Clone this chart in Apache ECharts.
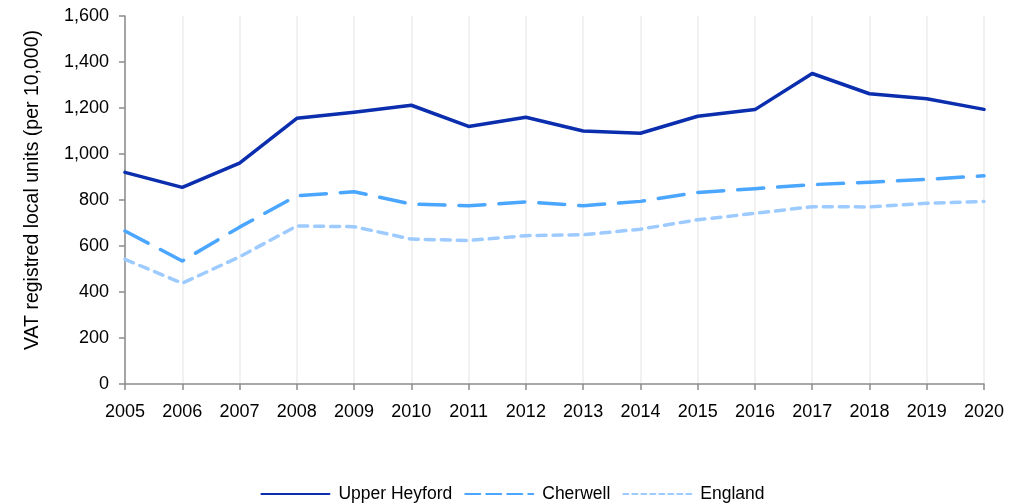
<!DOCTYPE html>
<html>
<head>
<meta charset="utf-8">
<style>
  html, body { margin: 0; padding: 0; background: #ffffff; }
  #chart { width: 1025px; height: 504px; }
</style>
<script src="https://cdn.jsdelivr.net/npm/echarts@6/dist/echarts.min.js"></script>
</head>
<body>
<div id="chart"></div>
<script>
// Years on the category axis
const years = ['2005','2006','2007','2008','2009','2010','2011','2012','2013','2014','2015','2016','2017','2018','2019','2020'];

// VAT registered local units per 10,000 people
const upperHeyford = [920, 855, 960, 1155, 1182, 1212, 1120, 1160, 1100, 1090, 1164, 1193, 1350, 1262, 1240, 1194];
const cherwell     = [665, 535, 682, 818, 836, 782, 775, 792, 775, 794, 833, 849, 867, 877, 890, 905];
const england      = [542, 438, 553, 687, 684, 630, 624, 645, 649, 673, 714, 742, 771, 770, 786, 794];

const seriesNames = ['Upper Heyford', 'Cherwell', 'England'];
const yTicks = { min: 0, max: 1600, step: 200 };

const font = 'Liberation Sans, Arial, sans-serif';
const colors = ['#0A2EAD', '#4BA6FF', '#9DCBFF'];

const chart = echarts.init(document.getElementById('chart'), null, { renderer: 'canvas' });

// Legend keys are plain line samples: hide the point marker
const keyItem = { opacity: 0, color: 'transparent', borderWidth: 0 };

chart.setOption({
  animation: false,
  grid: { left: 125, right: 41, top: 16, bottom: 120, containLabel: false },
  legend: {
    left: 'center',
    top: 480,
    itemWidth: 68,
    itemHeight: 14,
    itemGap: 12,
    textStyle: { fontFamily: font, fontSize: 17.5, color: '#000', padding: [0, 0, 0, 4] },
    data: [
      { name: seriesNames[0], itemStyle: keyItem, lineStyle: { width: 2, type: 'solid' } },
      { name: seriesNames[1], itemStyle: keyItem, lineStyle: { width: 2, type: [15, 6] } },
      { name: seriesNames[2], itemStyle: keyItem, lineStyle: { width: 2, type: [5, 4] } }
    ]
  },
  xAxis: {
    type: 'category',
    data: years,
    boundaryGap: false,
    axisLine: { lineStyle: { color: '#8c8c8c', width: 1.5 } },
    axisTick: { show: true, length: 6, alignWithLabel: true, lineStyle: { color: '#8c8c8c', width: 1.5 } },
    axisLabel: { fontFamily: font, fontSize: 18, color: '#000', margin: 19, interval: 0 },
    splitLine: { show: true, interval: 0, lineStyle: { color: '#ececec', width: 1.5 } }
  },
  yAxis: {
    type: 'value',
    min: yTicks.min,
    max: yTicks.max,
    interval: yTicks.step,
    name: 'VAT registred local units (per 10,000)',
    nameLocation: 'middle',
    nameGap: 82,
    nameRotate: 90,
    nameTextStyle: { fontFamily: font, fontSize: 19.5, color: '#000', padding: [0, 0, 0, 20] },
    axisLine: { show: true, lineStyle: { color: '#8c8c8c', width: 1.5 } },
    axisTick: { show: true, length: 6, lineStyle: { color: '#8c8c8c', width: 1.5 } },
    axisLabel: {
      fontFamily: font, fontSize: 18, color: '#000', margin: 16,
      formatter: v => v.toLocaleString('en-GB')
    },
    splitLine: { show: false }
  },
  series: [
    {
      name: seriesNames[0], type: 'line', data: upperHeyford,
      symbol: 'none', color: colors[0],
      lineStyle: { color: colors[0], width: 3.5, type: 'solid', cap: 'round', join: 'round' },
      z: 5
    },
    {
      name: seriesNames[1], type: 'line', data: cherwell,
      symbol: 'none', color: colors[1],
      lineStyle: { color: colors[1], width: 3.5, type: [26, 14], cap: 'round', join: 'round' },
      z: 4
    },
    {
      name: seriesNames[2], type: 'line', data: england,
      symbol: 'none', color: colors[2],
      lineStyle: { color: colors[2], width: 3.5, type: [9, 7], cap: 'round', join: 'round' },
      z: 3
    }
  ]
});
</script>
</body>
</html>
